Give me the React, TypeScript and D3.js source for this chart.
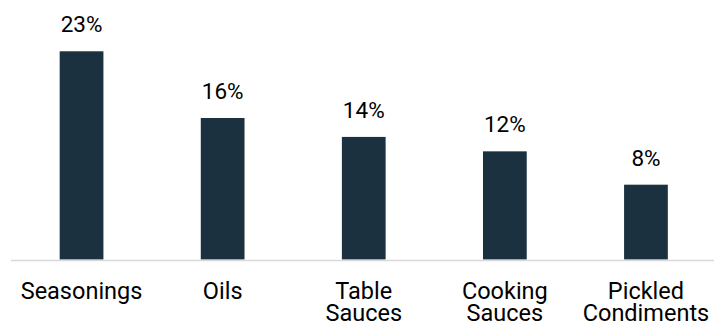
import React from "react";
import * as d3 from "d3";

const categories: string[][] = [
  ["Seasonings"],
  ["Oils"],
  ["Table", "Sauces"],
  ["Cooking", "Sauces"],
  ["Pickled", "Condiments"],
];
const values: number[] = [23.1, 15.7, 13.6, 12.0, 8.3];

const W = 714;
const H = 329;

export default function App() {
  const keys = categories.map((c) => c.join(" "));
  const x = d3
    .scaleBand<string>()
    .domain(keys)
    .range([11, 716.5])
    .paddingInner(0.69)
    .paddingOuter(0.345);
  const y = d3.scaleLinear().domain([0, 23.1]).range([259.5, 51.3]);
  const font = "Roboto, 'Noto Sans', sans-serif";
  return (
    <svg
      width={W}
      height={H}
      style={{ position: "absolute", left: 0, top: 0, background: "#fff" }}
    >
      {values.map((v, i) => {
        const k = keys[i];
        const x0 = x(k)!;
        const cx = x0 + x.bandwidth() / 2;
        return (
          <g key={k}>
            <rect
              x={x0}
              y={y(v)}
              width={x.bandwidth()}
              height={y(0) - y(v)}
              fill="#1b313f"
            />
            <text
              x={cx}
              y={y(v) - 19}
              textAnchor="middle"
              fontFamily={font}
              fontSize={22.5}
              fill="#000"
            >
              {Math.round(v) + "%"}
            </text>
            {categories[i].map((line, j) => (
              <text
                key={j}
                x={cx}
                y={298.5 + j * 22}
                textAnchor="middle"
                fontFamily={font}
                fontSize={23.5}
                fill="#000"
              >
                {line}
              </text>
            ))}
          </g>
        );
      })}
      <line x1={11} x2={W} y1={260.5} y2={260.5} stroke="#d9d9d9" strokeWidth={1.5} />
    </svg>
  );
}
